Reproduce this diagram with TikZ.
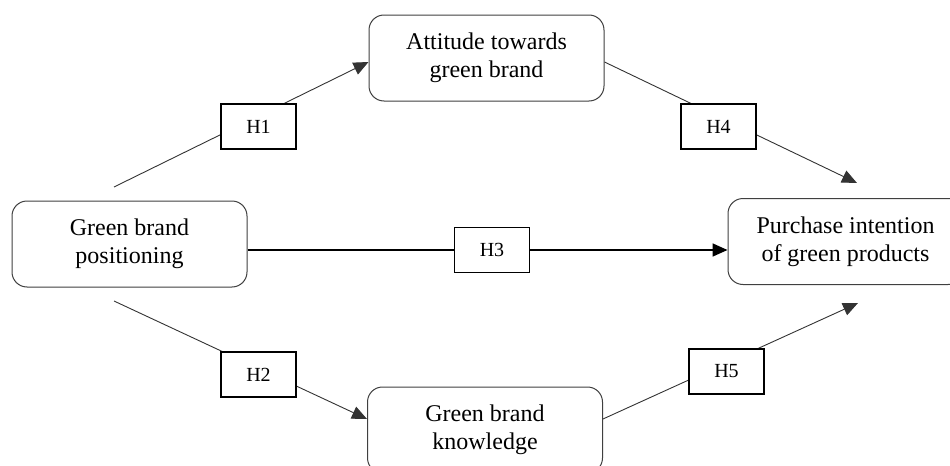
\documentclass[tikz,border=0pt]{standalone}
\usepackage{fontspec}
\setmainfont{Liberation Serif}
\usetikzlibrary{arrows.meta}

\begin{document}
\begin{tikzpicture}[x = 0.5pt, y = -0.5pt,
        font = \fontsize{12}{14}\selectfont,
        concept/.style = {draw = black!75, line width = 0.5pt,
            rounded corners = 7.5pt, fill = white, align = center,
            minimum width = 117.5pt, minimum height = 43pt, inner sep = 0pt},
        hyp/.style = {draw, line width = 0.9pt, fill = white,
            minimum width = 37.5pt, minimum height = 22.5pt, inner sep = 0pt,
            font = \fontsize{10}{12}\selectfont},
        link/.style = {draw = black!80, line width = 0.45pt,
            -{Triangle[length = 7.5pt, width = 6.5pt]}}]
        \clip (0,0) rectangle (950,466);

        % constructs
        \node [concept] (gbp) at (129.5,244) {Green brand\\positioning};
        \node [concept] (att) at (486.5,58) {Attitude towards\\green brand};
        \node [concept] (gbk) at (485,430) {Green brand\\knowledge};
        \node [concept] (pur) at (845.5,241.5) {Purchase intention\\of green products};

        \coordinate (h1s) at (114,187);
        \coordinate (h2s) at (114,301);
        \coordinate (h4e) at (857,183);
        \coordinate (h5e) at (858,303);

        % paths
        \draw [link]
        (h1s) -- ([yshift = -2pt]att.west);

        \draw [link]
        (h2s) -- ([yshift = 5.5pt]gbk.west);

        \draw [link]
        ([yshift = -2pt]att.east) -- (h4e);

        \draw [link]
        ([yshift = 5.5pt]gbk.east) -- (h5e);

        % hypotheses
        \node [hyp] (H1) at (258.5,126.5) {H1};
        \node [hyp] (H2) at (258.5,374.5) {H2};
        \node [hyp] (H3) at (492,250) {H3};
        \node [hyp] (H4) at (718.5,126.5) {H4};
        \node [hyp] (H5) at (726.5,371.5) {H5};

        \draw [line width = 0.9pt]
        (gbp.east |- H3) -- (H3.west);

        \draw [line width = 0.9pt, -{Triangle[length = 7.5pt, width = 6.5pt]}]
        (H3.east) -- (pur.west |- H3);
    \end{tikzpicture}
\end{document}
